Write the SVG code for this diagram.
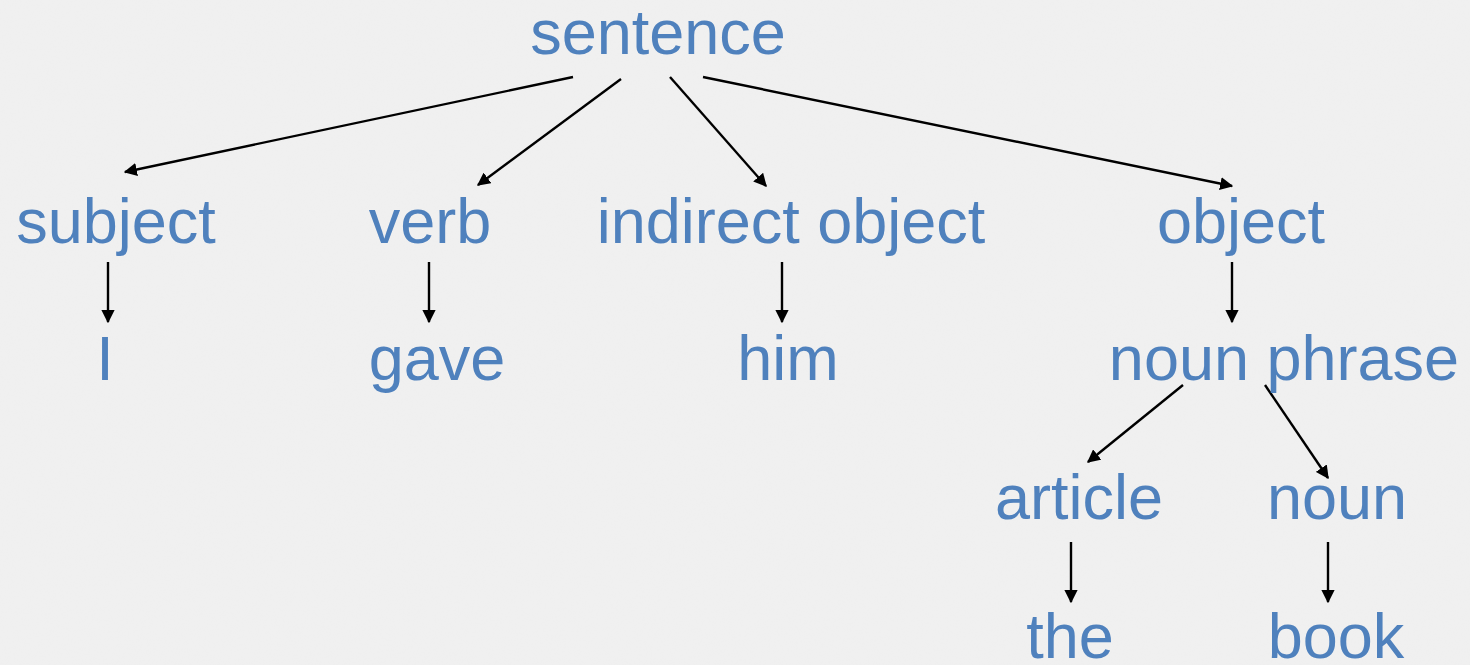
<svg xmlns="http://www.w3.org/2000/svg" width="1470" height="665" viewBox="0 0 1470 665">
<style>
text { font-family: "Liberation Sans", Arial, sans-serif; font-size: 63px; fill: #4f81bd; text-anchor: middle; }
.c line { stroke: #000; stroke-width: 2.4; marker-end: url(#ah); }
</style>
<defs>
<marker id="ah" viewBox="0 0 10 10" refX="9" refY="5" markerWidth="5.5" markerHeight="5.5" orient="auto" markerUnits="strokeWidth">
<path d="M0,0 L10,5 L0,10 z" fill="#000"/>
</marker>
<filter id="noise" x="0" y="0" width="100%" height="100%">
<feTurbulence type="fractalNoise" baseFrequency="0.6" numOctaves="2" seed="3" result="t"/>
<feColorMatrix type="matrix" values="0 0 0 0 0.86  0 0 0 0 0.86  0 0 0 0 0.86  0 0 0 -1.6 1.0" />
</filter>
</defs>
<rect width="1470" height="665" fill="#f0f0f0"/>
<rect width="1470" height="665" filter="url(#noise)" opacity="0.5"/>
<g class="c" id="connectors">
<line x1="573" y1="77" x2="125" y2="172"/>
<line x1="621" y1="79" x2="478" y2="185"/>
<line x1="670" y1="77" x2="766" y2="186"/>
<line x1="703" y1="77" x2="1232" y2="186"/>
<line x1="108" y1="262" x2="108" y2="322"/>
<line x1="429" y1="262" x2="429" y2="322"/>
<line x1="782" y1="262" x2="782" y2="322"/>
<line x1="1232" y1="262" x2="1232" y2="322"/>
<line x1="1183" y1="385" x2="1088" y2="462"/>
<line x1="1265" y1="385" x2="1328" y2="478"/>
<line x1="1071" y1="542" x2="1071" y2="602"/>
<line x1="1328" y1="542" x2="1328" y2="602"/>
</g>
<g id="sentence"><text x="658" y="54">sentence</text></g>
<g id="subject"><text x="116" y="243">subject</text></g>
<g id="verb"><text x="430" y="243">verb</text></g>
<g id="indirect-object"><text x="791" y="243">indirect object</text></g>
<g id="object"><text x="1241" y="243">object</text></g>
<g id="I"><text x="105" y="380">I</text></g>
<g id="gave"><text x="437" y="380">gave</text></g>
<g id="him"><text x="788" y="380">him</text></g>
<g id="noun-phrase"><text x="1284" y="380">noun phrase</text></g>
<g id="article"><text x="1079" y="519">article</text></g>
<g id="noun"><text x="1337" y="519">noun</text></g>
<g id="the"><text x="1070" y="658">the</text></g>
<g id="book"><text x="1336" y="658">book</text></g>
</svg>
